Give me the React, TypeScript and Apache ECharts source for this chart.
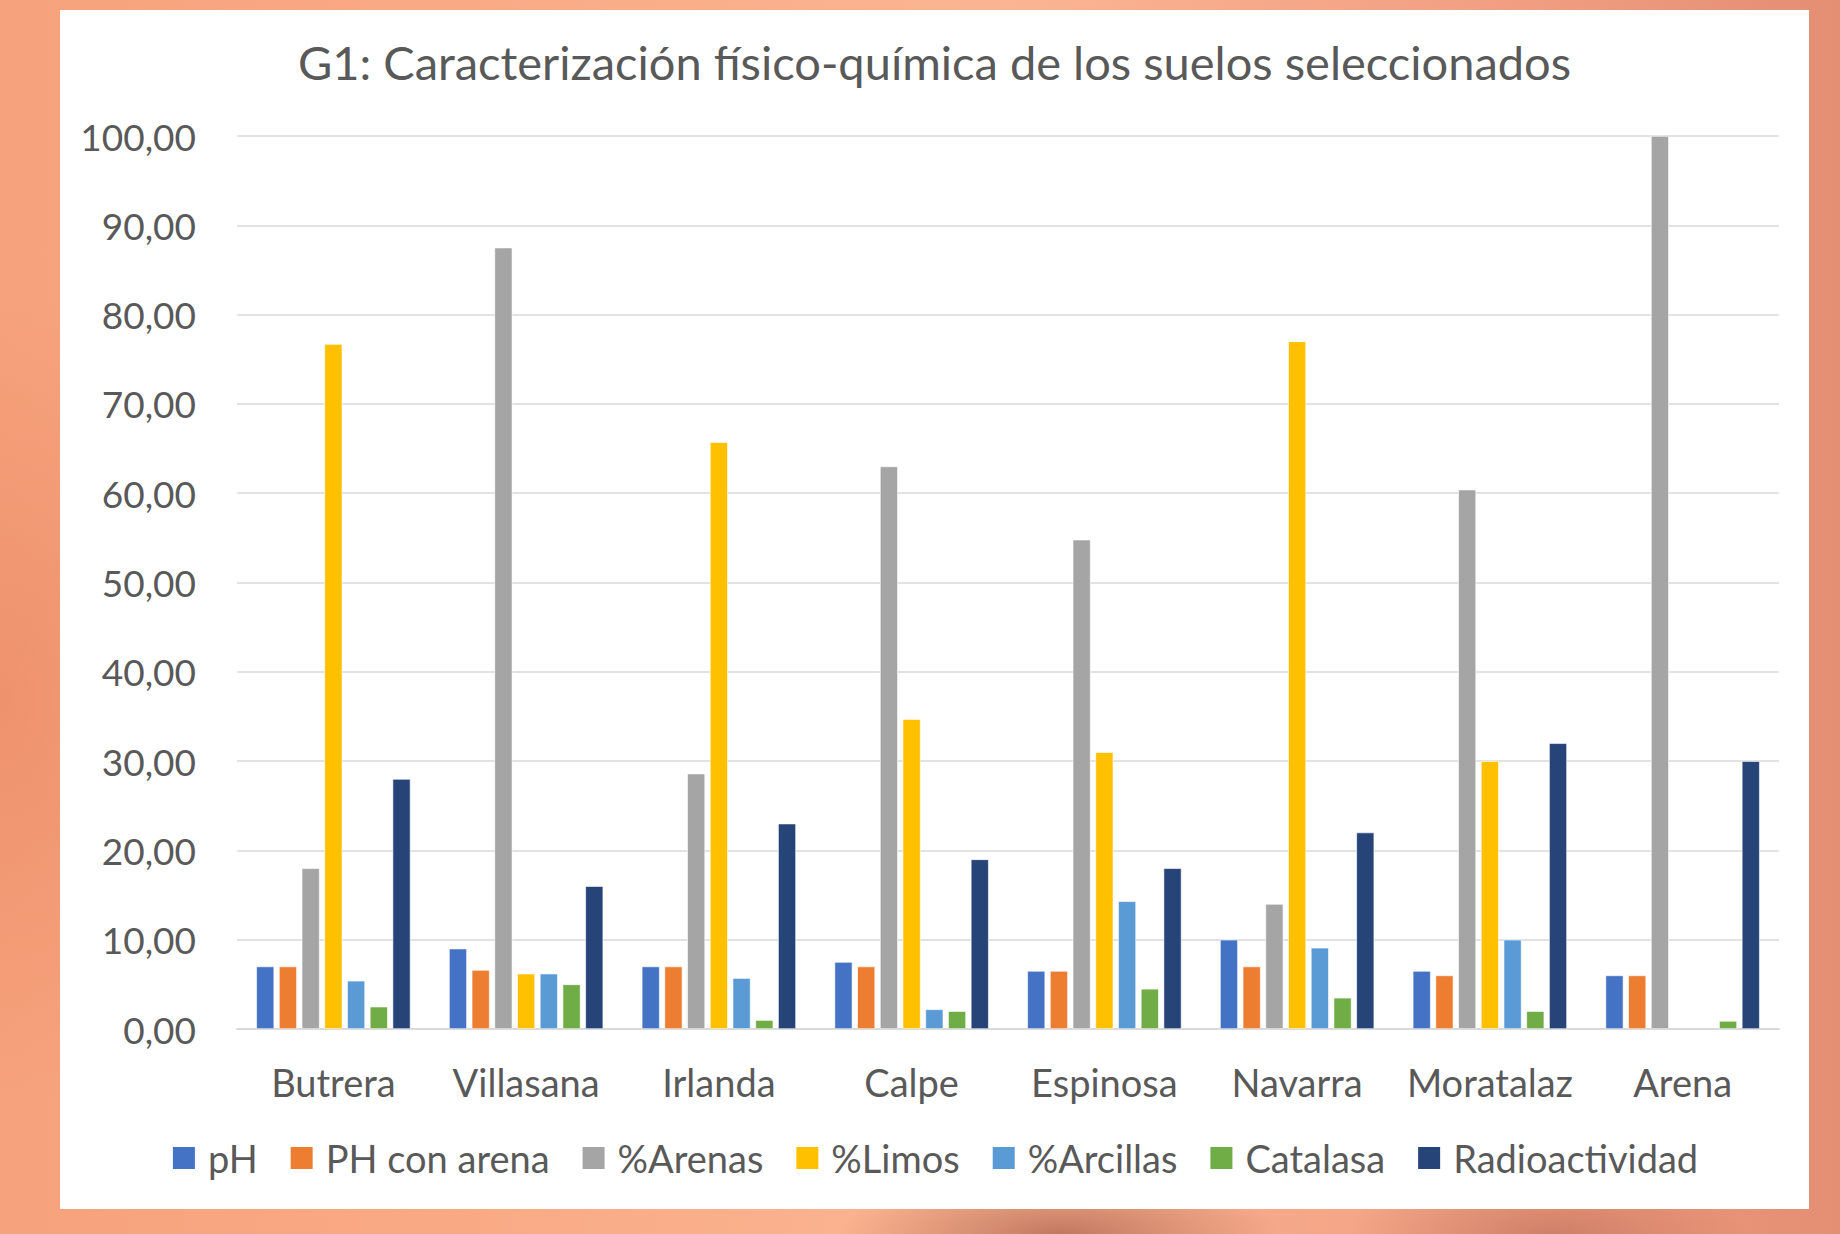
import React, { useEffect, useRef } from "react";
import * as echarts from "echarts";

const categories = ["Butrera", "Villasana", "Irlanda", "Calpe", "Espinosa", "Navarra", "Moratalaz", "Arena"];
const seriesNames = ["pH", "PH con arena", "%Arenas", "%Limos", "%Arcillas", "Catalasa", "Radioactividad"];
const pH = [7.0, 9.0, 7.0, 7.5, 6.5, 10.0, 6.5, 6.0];
const pHConArena = [7.0, 6.6, 7.0, 7.0, 6.5, 7.0, 6.0, 6.0];
const arenas = [18.0, 87.5, 28.6, 63.0, 54.8, 14.0, 60.4, 100.0];
const limos = [76.7, 6.2, 65.7, 34.7, 31.0, 77.0, 30.0, null];
const arcillas = [5.4, 6.2, 5.7, 2.2, 14.3, 9.1, 10.0, null];
const catalasa = [2.5, 5.0, 1.0, 2.0, 4.5, 3.5, 2.0, 0.9];
const radioactividad = [28.0, 16.0, 23.0, 19.0, 18.0, 22.0, 32.0, 30.0];
const colors = ["#4472C4", "#ED7D31", "#A5A5A5", "#FFC000", "#5B9BD5", "#70AD47", "#264478"];
const yTicks = { min: 0, max: 100, interval: 10 };

const FONT = "Lato";
const TEXT = "#595959";

export default function App() {
  const ref = useRef<HTMLDivElement>(null);
  useEffect(() => {
    document.body.style.margin = "0";
    if (!ref.current) return;
    const chart = echarts.init(ref.current, undefined, { renderer: "svg" });
    const values = [pH, pHConArena, arenas, limos, arcillas, catalasa, radioactividad];
    chart.setOption({
      animation: false,
      backgroundColor: "#ffffff",
      color: colors,
      title: {
        text: "G1: Caracterización físico-química de los suelos seleccionados",
        left: "center",
        top: 23,
        textStyle: { fontFamily: FONT, fontSize: 47, fontWeight: "normal", color: TEXT },
      },
      grid: { left: 177, right: 30, top: 126, bottom: 180, containLabel: false },
      legend: {
        data: seriesNames,
        left: "center",
        top: 1124,
        itemWidth: 24,
        itemHeight: 24,
        itemGap: 31,
        icon: "rect",
        textStyle: { fontFamily: FONT, fontSize: 38, color: TEXT, padding: [0, 0, 0, 7] },
      },
      xAxis: {
        type: "category",
        data: categories,
        axisLine: { lineStyle: { color: "#D9D9D9", width: 2 } },
        axisTick: { show: false },
        axisLabel: { fontFamily: FONT, fontSize: 38, color: TEXT, margin: 34, interval: 0 },
      },
      yAxis: {
        type: "value",
        min: yTicks.min,
        max: yTicks.max,
        interval: yTicks.interval,
        axisLine: { show: false },
        axisTick: { show: false },
        splitLine: { lineStyle: { color: "#D9D9D9", width: 1.5 } },
        axisLabel: {
          fontFamily: FONT,
          fontSize: 37,
          color: TEXT,
          margin: 41,
          formatter: (v: number) => v.toFixed(2).replace(".", ","),
        },
      },
      series: seriesNames.map((name, i) => ({
        name,
        type: "bar",
        data: values[i],
        barCategoryGap: "20%",
        barGap: "27%",
        itemStyle: { borderColor: "#ffffff", borderWidth: 0.6 },
      })),
    });
    return () => chart.dispose();
  }, []);

  return (
    <div
      style={{
        position: "fixed",
        left: 0,
        top: 0,
        width: 1840,
        height: 1234,
        background:
          "radial-gradient(ellipse 220px 60px at 1060px 1234px, rgba(170,95,75,0.7), rgba(170,95,75,0) 100%)," +
          "radial-gradient(ellipse 200px 60px at 1550px 1234px, rgba(175,100,80,0.5), rgba(175,100,80,0) 100%)," +
          "radial-gradient(ellipse 300px 400px at 0px 700px, rgba(230,130,95,0.5), rgba(230,130,95,0) 100%)," +
          "linear-gradient(90deg, #f6a27c 0%, #f9aa85 25%, #fbb592 55%, #f2a083 80%, #e48e73 100%)",
      }}
    >
      <div
        ref={ref}
        style={{ position: "absolute", left: 60, top: 10, width: 1749, height: 1199, background: "#ffffff" }}
      />
    </div>
  );
}
